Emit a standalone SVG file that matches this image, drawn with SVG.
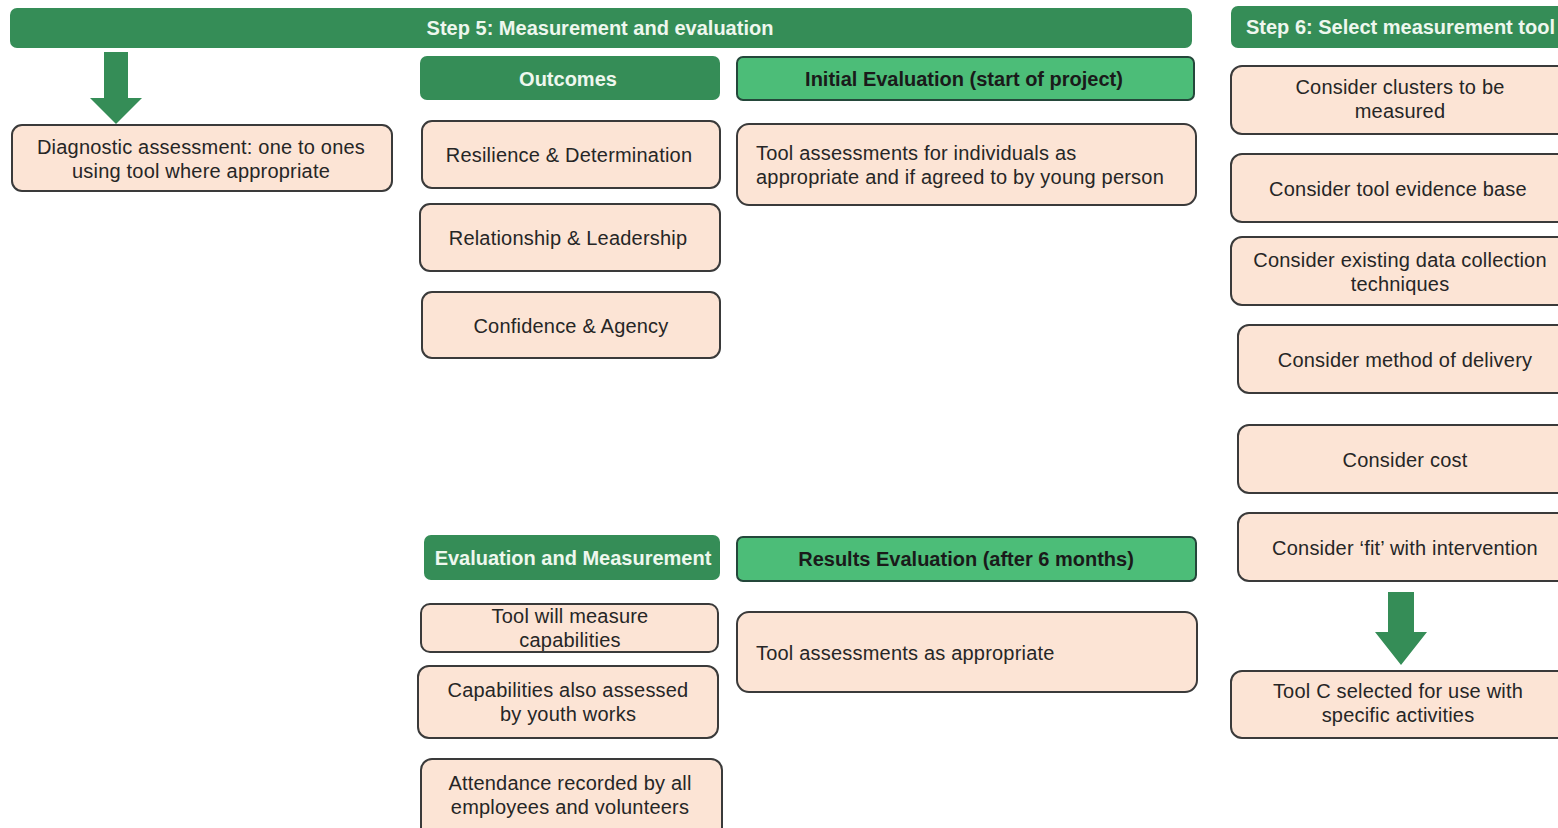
<svg xmlns="http://www.w3.org/2000/svg" width="1558" height="828" viewBox="0 0 1558 828">
<style>
.bar{fill:#358d57}
.hdr{fill:#4cbd78;stroke:#24473a;stroke-width:2}
.box{fill:#fce4d5;stroke:#3a3a3a;stroke-width:2}
.t{font-family:"Liberation Sans",Arial,sans-serif;font-size:20px;fill:#262626;text-anchor:middle;letter-spacing:0.2px}
.tl{text-anchor:start}
.ht{font-family:"Liberation Sans Narrow","Liberation Sans",Arial,sans-serif;font-weight:bold;font-size:20px;fill:#eef7ee;text-anchor:middle}
.hd{fill:#1a1a1a}
.arrow{fill:#358d57}
</style>
<rect width="1558" height="828" fill="#ffffff"/>
<g id="step5">
<rect class="bar" x="10" y="8" width="1182" height="40" rx="7"/>
<text class="ht" x="600" y="35">Step 5: Measurement and evaluation</text>
</g>
<g id="step6">
<rect class="bar" x="1231" y="6" width="340" height="42" rx="7"/>
<text class="ht" x="1246" y="34" style="text-anchor:start">Step 6:  Select measurement tool</text>
</g>
<g id="connectors">
<path class="arrow" d="M104 52 H128 V98 H142 L116 124 L90 98 H104 Z"/>
<path class="arrow" d="M1388 592 H1414 V632 H1427 L1401 665 L1375 632 H1388 Z"/>
</g>
<g id="diagnostic">
<rect class="box" x="12" y="125" width="380" height="66" rx="10"/>
<text class="t" x="201" y="154">Diagnostic assessment: one to ones</text>
<text class="t" x="201" y="178">using tool  where appropriate</text>
</g>
<g id="outcomes">
<rect class="bar" x="420" y="56" width="300" height="44" rx="7"/>
<text class="ht" x="568" y="86">Outcomes</text>
</g>
<g id="initial-eval">
<rect class="hdr" x="737" y="57" width="457" height="43" rx="6"/>
<text class="ht hd" x="964" y="86">Initial  Evaluation  (start of project)</text>
</g>
<g id="resilience">
<rect class="box" x="422" y="121" width="298" height="67" rx="10"/>
<text class="t" x="569" y="162">Resilience &amp; Determination</text>
</g>
<g id="relationship">
<rect class="box" x="420" y="204" width="300" height="67" rx="10"/>
<text class="t" x="568" y="245">Relationship &amp; Leadership</text>
</g>
<g id="confidence">
<rect class="box" x="422" y="292" width="298" height="66" rx="10"/>
<text class="t" x="571" y="333">Confidence &amp; Agency</text>
</g>
<g id="tool-individuals">
<rect class="box" x="737" y="124" width="459" height="81" rx="12"/>
<text class="t tl" x="756" y="160">Tool assessments for individuals as</text>
<text class="t tl" x="756" y="184">appropriate and if agreed to by young person</text>
</g>
<g id="eval-measure">
<rect class="bar" x="424" y="535" width="296" height="45" rx="7"/>
<text class="ht" x="573" y="565">Evaluation  and Measurement</text>
</g>
<g id="results-eval">
<rect class="hdr" x="737" y="537" width="459" height="44" rx="6"/>
<text class="ht hd" x="966" y="566">Results Evaluation  (after 6 months)</text>
</g>
<g id="tool-measure">
<rect class="box" x="421" y="604" width="297" height="48" rx="9"/>
<text class="t" x="570" y="623">Tool will measure</text>
<text class="t" x="570" y="647">capabilities</text>
</g>
<g id="capabilities">
<rect class="box" x="418" y="666" width="300" height="72" rx="11"/>
<text class="t" x="568" y="697">Capabilities also assessed</text>
<text class="t" x="568" y="721">by youth works</text>
</g>
<g id="attendance">
<rect class="box" x="421" y="759" width="301" height="80" rx="11"/>
<text class="t" x="570" y="790">Attendance recorded by all</text>
<text class="t" x="570" y="814">employees and volunteers</text>
</g>
<g id="tool-appropriate">
<rect class="box" x="737" y="612" width="460" height="80" rx="12"/>
<text class="t tl" x="756" y="660">Tool assessments as appropriate</text>
</g>
<g id="clusters">
<rect class="box" x="1231" y="66" width="340" height="68" rx="11"/>
<text class="t" x="1400" y="94">Consider clusters to be</text>
<text class="t" x="1400" y="118">measured</text>
</g>
<g id="evidence">
<rect class="box" x="1231" y="154" width="340" height="68" rx="11"/>
<text class="t" x="1398" y="196">Consider tool evidence base</text>
</g>
<g id="existing">
<rect class="box" x="1231" y="237" width="340" height="68" rx="11"/>
<text class="t" x="1400" y="267">Consider existing data collection</text>
<text class="t" x="1400" y="291">techniques</text>
</g>
<g id="delivery">
<rect class="box" x="1238" y="325" width="333" height="68" rx="11"/>
<text class="t" x="1405" y="367">Consider method of delivery</text>
</g>
<g id="cost">
<rect class="box" x="1238" y="425" width="333" height="68" rx="11"/>
<text class="t" x="1405" y="467">Consider cost</text>
</g>
<g id="fit">
<rect class="box" x="1238" y="513" width="333" height="68" rx="11"/>
<text class="t" x="1405" y="555">Consider ‘fit’ with intervention</text>
</g>
<g id="toolc">
<rect class="box" x="1231" y="671" width="340" height="67" rx="11"/>
<text class="t" x="1398" y="698">Tool C selected for use with</text>
<text class="t" x="1398" y="722">specific activities</text>
</g>
</svg>
